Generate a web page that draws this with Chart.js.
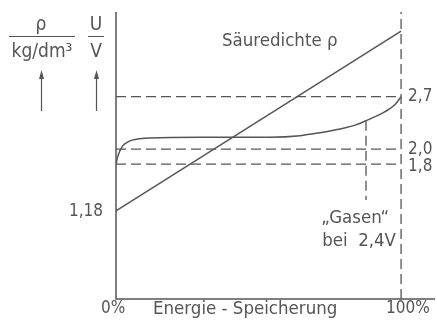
<!DOCTYPE html>
<html>
<head>
<meta charset="utf-8">
<script src="https://cdn.jsdelivr.net/npm/chart.js@4"></script>
<style>
  html, body { margin: 0; padding: 0; background: #fff; }
  #wrap { width: 437px; height: 332px; }
</style>
</head>
<body>
<div id="wrap"><canvas id="grafica"></canvas></div>
<script>
// Ladekennlinie Bleiakku: Spannung U und Säuredichte rho über der Energie-Speicherung
const energiePct = [0, 0.35, 0.7, 1.4, 2.5, 3.9, 5.6, 8.4, 11.9, 29.5, 54, 64.6, 71.6, 78.6, 83.9, 87.7, 94.4, 98, 100];
const spannungU = [1.79, 1.86, 1.91, 1.98, 2.05, 2.09, 2.12, 2.14, 2.15, 2.16, 2.16, 2.18, 2.22, 2.27, 2.32, 2.38, 2.50, 2.60, 2.70];

const dichtePct = [0, 100];
const dichteRho = [1.18, 1.28];

// Hilfslinien (gestrichelt) und ihre Beschriftung
const spannungMarken = [2.7, 2.0, 1.8];
const spannungLabels = ['2,7', '2,0', '1,8'];
const dichteLabel = '1,18';
const gasenPct = 87.7;
const gasenU = [2.38, 1.32];
const vollPct = 100;

const uMax = 3.83;
const rhoMin = 1.131;
const rhoMax = 1.2906;

const farbe = '#555';
const schrift = '"DejaVu Sans Condensed", "DejaVu Sans", sans-serif';
const ziffern = '"Liberation Sans Narrow", "DejaVu Sans Condensed", sans-serif';

function punkte(xs, ys) {
    return xs.map((x, i) => ({ x: x, y: ys[i] }));
}

function gestrichelt(data) {
    return {
        data: data,
        borderColor: farbe,
        borderWidth: 1.3,
        borderDash: [10, 5],
        pointRadius: 0,
        fill: false,
        yAxisID: 'y',
    };
}

const datasets = [
    {
        label: 'Spannung U',
        data: punkte(energiePct, spannungU),
        borderColor: farbe,
        borderWidth: 1.5,
        pointRadius: 0,
        cubicInterpolationMode: 'monotone',
        fill: false,
        yAxisID: 'y',
    },
    {
        label: 'Säuredichte',
        data: punkte(dichtePct, dichteRho),
        borderColor: farbe,
        borderWidth: 1.5,
        pointRadius: 0,
        fill: false,
        yAxisID: 'y2',
    },
];

// horizontale Linien bei 2,7 / 2,0 / 1,8 V
spannungMarken.forEach(u => datasets.push(gestrichelt([{ x: 0, y: u }, { x: vollPct, y: u }])));
// senkrechte Linie bei 100 %
datasets.push(gestrichelt([{ x: vollPct, y: 0 }, { x: vollPct, y: uMax }]));
// senkrechte Linie "Gasen"
datasets.push(gestrichelt([{ x: gasenPct, y: gasenU[0] }, { x: gasenPct, y: gasenU[1] }]));

function pfeil(ctx, x, yOben, yUnten) {
    ctx.beginPath();
    ctx.moveTo(x, yUnten);
    ctx.lineTo(x, yOben + 4);
    ctx.stroke();
    ctx.beginPath();
    ctx.moveTo(x, yOben);
    ctx.lineTo(x - 2.5, yOben + 9);
    ctx.lineTo(x + 2.5, yOben + 9);
    ctx.closePath();
    ctx.fill();
}

const beschriftung = {
    id: 'beschriftung',
    afterDatasetsDraw(chart) {
        const ctx = chart.ctx;
        const a = chart.chartArea;
        const sx = chart.scales.x;
        const sy = chart.scales.y;
        const sy2 = chart.scales.y2;
        ctx.save();
        ctx.strokeStyle = farbe;
        ctx.fillStyle = farbe;
        ctx.lineWidth = 1.5;

        // Achsen
        ctx.beginPath();
        ctx.moveTo(a.left, a.top);
        ctx.lineTo(a.left, a.bottom);
        ctx.lineTo(a.right, a.bottom);
        ctx.stroke();

        ctx.textBaseline = 'middle';

        // Werte an den Hilfslinien
        ctx.font = '17px ' + ziffern;
        ctx.textAlign = 'left';
        spannungMarken.forEach((u, i) => {
            const dy = u === 1.8 ? 2 : 0;
            ctx.fillText(spannungLabels[i], sx.getPixelForValue(vollPct) + 7, sy.getPixelForValue(u) + dy);
        });
        ctx.textAlign = 'right';
        ctx.fillText(dichteLabel, a.left - 13, sy2.getPixelForValue(dichteRho[0]) + 1);

        // Kurvenbeschriftung
        ctx.font = '18.5px ' + schrift;
        ctx.textAlign = 'left';
        ctx.fillText('Säuredichte ρ', 222, 41);
        ctx.textAlign = 'right';
        ctx.fillText('„Gasen“', 389, 218);
        ctx.fillText('bei  2,4V', 396, 241);

        // x-Achse
        ctx.textAlign = 'left';
        ctx.fillText('Energie - Speicherung', 153, 309);
        ctx.font = '17px ' + schrift;
        ctx.fillText('0%', 101, 309);
        ctx.fillText('100%', 386, 309);

        // Größen und Einheiten links oben
        ctx.font = '19px ' + schrift;
        ctx.textAlign = 'center';
        ctx.fillText('ρ', 41, 25);
        ctx.fillText('kg/dm³', 42, 52);
        ctx.fillText('U', 96, 25);
        ctx.fillText('V', 96, 52);
        ctx.lineWidth = 1.2;
        ctx.beginPath();
        ctx.moveTo(9, 36.5);
        ctx.lineTo(75, 36.5);
        ctx.moveTo(88, 36.5);
        ctx.lineTo(104, 36.5);
        ctx.stroke();
        pfeil(ctx, 41.5, 70, 111);
        pfeil(ctx, 96.5, 70, 111);

        ctx.restore();
    }
};

new Chart(document.getElementById('grafica'), {
    type: 'line',
    data: { datasets: datasets },
    options: {
        responsive: true,
        maintainAspectRatio: false,
        animation: false,
        events: [],
        layout: { padding: { left: 116, right: 2, top: 12, bottom: 33 } },
        plugins: {
            legend: { display: false },
            tooltip: { enabled: false },
        },
        scales: {
            x: { type: 'linear', min: 0, max: 111.9, display: false },
            y: { type: 'linear', min: 0, max: uMax, display: false },
            y2: { type: 'linear', min: rhoMin, max: rhoMax, display: false },
        },
    },
    plugins: [beschriftung],
});
</script>
</body>
</html>
